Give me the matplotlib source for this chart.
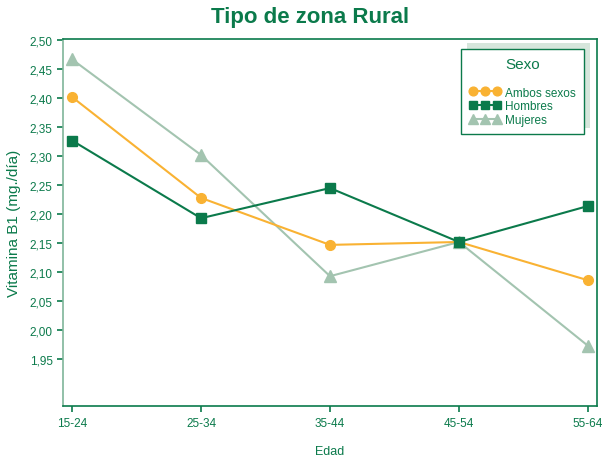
import matplotlib.pyplot as plt
from matplotlib.patches import Rectangle
from matplotlib.ticker import FuncFormatter

# Vitamina B1 intake by age group, rural zone
edades = ["15-24", "25-34", "35-44", "45-54", "55-64"]
ambos = [2.402, 2.228, 2.147, 2.152, 2.086]
hombres = [2.327, 2.193, 2.245, 2.152, 2.214]
mujeres = [2.467, 2.302, 2.093, 2.152, 1.973]
yticks = [1.95, 2.00, 2.05, 2.10, 2.15, 2.20, 2.25, 2.30, 2.35, 2.40, 2.45, 2.50]

verde = "#0B7A4B"
naranja = "#F9B233"
gris_verde = "#A3C4B0"

plt.rcParams["font.family"] = ["Liberation Sans", "DejaVu Sans"]

fig = plt.figure(figsize=(6.03, 4.60), dpi=100)
ax = fig.add_axes([0.1045, 0.115, 0.8855, 0.798])

x = list(range(len(edades)))
ax.plot(x, mujeres, color=gris_verde, marker="^", markersize=8, lw=1.5, label="Mujeres", zorder=2)
ax.plot(x, ambos, color=naranja, marker="o", markersize=7, lw=1.5, label="Ambos sexos", zorder=3)
ax.plot(x, hombres, color=verde, marker="s", markersize=7, lw=1.5, label="Hombres", zorder=4)

ax.set_xlim(-0.07, 4.07)
ax.set_ylim(1.869, 2.502)
ax.set_xticks(x)
ax.set_xticklabels(edades)
ax.set_yticks(yticks)
ax.yaxis.set_major_formatter(FuncFormatter(lambda v, p: f"{v:.2f}".replace(".", ",")))
ax.tick_params(colors=verde, labelcolor=verde, labelsize=8.5, length=4, width=1.2)

for side in ["top", "right", "bottom"]:
    ax.spines[side].set_color(verde)
ax.spines["left"].set_color("#7FB59A")
for s in ax.spines.values():
    s.set_linewidth(1.2)

ax.set_ylabel("Vitamina B1 (mg./día)", color=verde, fontsize=11, labelpad=6)
ax.set_xlabel("Edad", color=verde, fontsize=9, labelpad=12)
fig.text(0.514, 0.963, "Tipo de zona Rural", color=verde, fontsize=16,
         fontweight="bold", ha="center", va="center")

handles, labels = ax.get_legend_handles_labels()
order = [1, 2, 0]
leg = ax.legend([handles[i] for i in order], [labels[i] for i in order],
                title="Sexo", loc="upper right", bbox_to_anchor=(0.9757, 0.9728),
                numpoints=3, markerscale=0.9, handlelength=2.6, handletextpad=0.4,
                labelspacing=0.15, borderpad=0.7, borderaxespad=0, fontsize=8.5,
                title_fontsize=11, fancybox=False, framealpha=1)
leg._legend_box.sep = 11
leg.get_frame().set_edgecolor(verde)
leg.get_frame().set_linewidth(1.0)
for t in leg.get_texts():
    t.set_color(verde)
leg.get_title().set_color(verde)
leg.set_zorder(6)

# offset shadow behind the legend box
fig.canvas.draw()
bb = leg.get_window_extent().transformed(fig.transFigure.inverted())
sombra = Rectangle((bb.x0 + 0.00995, bb.y0 + 0.013), bb.width, bb.height,
                   transform=fig.transFigure, facecolor="#D6E6DC",
                   edgecolor="none", zorder=5)
ax.add_artist(sombra)
sombra.set_clip_on(False)

fig.savefig("out.png", dpi=100)
